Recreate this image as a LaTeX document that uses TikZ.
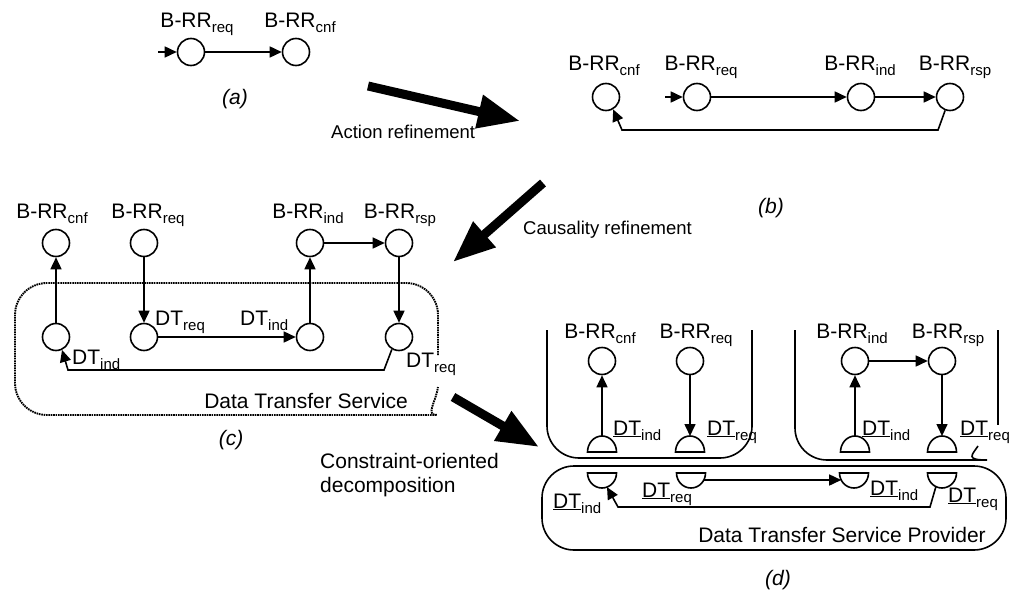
\documentclass[tikz,border=0pt]{standalone}
\usepackage{fontspec}
\setmainfont{Liberation Sans}
\usetikzlibrary{arrows.meta,calc}
\newcommand\sbs[1]{\raisebox{-5pt}{\fontsize{15}{15}\selectfont #1}}
\newcommand\udt{\underline{DT}}
\begin{document}
\begin{tikzpicture}[x=1pt,y=-1pt,
  every node/.style={font=\fontsize{21}{24}\selectfont, inner sep=0pt},
  it/.style={font=\fontsize{21}{24}\selectfont\itshape},
  steplbl/.style={font=\fontsize{18.5}{21}\selectfont},
  ev/.style={circle, draw, line width=1.6pt, minimum size=27pt},
  ln/.style={line width=1.6pt},
  arr/.style={line width=1.6pt, -{Triangle[length=12pt,width=11pt]}},
  big/.style={line width=9pt, -{Triangle[length=42pt,width=32pt]}},
  box/.style={line width=1.6pt, rounded corners=32pt},
  dbox/.style={line width=1.9pt, dash pattern=on 1.6pt off 0.8pt, rounded corners=32pt}]
\useasboundingbox (0,0) rectangle (1011,591);

% ---------- (a)
\node[ev] (a1) at (191,52) {};
\node[ev] (a2) at (296,52) {};
\coordinate (a0) at (158,52);
\draw[arr] (a0) -- (a1);
\draw[arr] (a1) -- (a2);
\node[anchor=base] (la1) at (197,28) {B-RR\sbs{req}};
\node[anchor=base] (la2) at (300,28) {B-RR\sbs{cnf}};
\node[it] (capa) at (235,99) {(a)};

% action refinement
\coordinate (act0) at (368,86);
\coordinate (act1) at (520,121);
\draw[big] (act0) -- (act1);
\node[steplbl, anchor=base west] (lact) at (331,139) {Action refinement};

% ---------- (b)
\node[ev] (b1) at (606,97) {};
\node[ev] (b2) at (697,97) {};
\node[ev] (b3) at (861,97) {};
\node[ev] (b4) at (950,97) {};
\node[anchor=base] (lb1) at (604,71) {B-RR\sbs{cnf}};
\node[anchor=base] (lb2) at (701,71) {B-RR\sbs{req}};
\node[anchor=base] (lb3) at (860,71) {B-RR\sbs{ind}};
\node[anchor=base] (lb4) at (955,71) {B-RR\sbs{rsp}};
\coordinate (b0) at (665,97);
\coordinate (br1) at (938,130);
\coordinate (br2) at (622,130);
\draw[arr] (b0) -- (b2);
\draw[arr] (b2) -- (b3);
\draw[arr] (b3) -- (b4);
\draw[arr] (b4.250) -- (br1) -- (br2) -- (b1.300);
\node[it] (capb) at (771,208) {(b)};

% causality refinement
\coordinate (cau0) at (543,183);
\coordinate (cau1) at (453,262);
\draw[big] (cau0) -- (cau1);
\node[steplbl, anchor=base west] (lcau) at (523,234) {Causality refinement};

% ---------- (c)
\node[ev] (cu1) at (56,243) {};
\node[ev] (cu2) at (144,243) {};
\node[ev] (cu3) at (310,243) {};
\node[ev] (cu4) at (399,243) {};
\node[ev] (cl1) at (56,337) {};
\node[ev] (cl2) at (144,337) {};
\node[ev] (cl3) at (310,337) {};
\node[ev] (cl4) at (399,337) {};
\node[anchor=base] (lc1) at (52,218) {B-RR\sbs{cnf}};
\node[anchor=base] (lc2) at (148,218) {B-RR\sbs{req}};
\node[anchor=base] (lc3) at (308,218) {B-RR\sbs{ind}};
\node[anchor=base] (lc4) at (400,218) {B-RR\sbs{rsp}};
\draw[arr] (cl1) -- (cu1);
\draw[arr] (cu2) -- (cl2);
\draw[arr] (cl2) -- (cl3);
\draw[arr] (cl3) -- (cu3);
\draw[arr] (cu3) -- (cu4);
\draw[arr] (cu4) -- (cl4);
\coordinate (cr1) at (384,370);
\coordinate (cr2) at (68,370);
\draw[arr] (cl4.240) -- (cr1) -- (cr2) -- (cl1.295);
\node[anchor=base west] (dc1) at (155,325) {DT\sbs{req}};
\node[anchor=base west] (dc2) at (240,325) {DT\sbs{ind}};
\node[anchor=base west] (dc3) at (72,364) {DT\sbs{ind}};
\node[anchor=base west] (dc4) at (406,367) {DT\sbs{req}};
\draw[dbox] (438,355) -- (438,283) -- (15,283) -- (15,415) -- (405,415)
  .. controls (425,415) and (436,402) .. (438,387);
\node[anchor=base] (lserv) at (306,408) {Data Transfer Service};
\node[it] (capc) at (231,440) {(c)};

% decomposition arrow
\coordinate (dec0) at (453,397);
\coordinate (dec1) at (539,447);
\draw[big] (dec0) -- (dec1);
\node[anchor=north west, align=left] (ldec) at (320,453) {Constraint-oriented\\decomposition};

% ---------- (d)
\draw[box] (547,330) -- (547,458) -- (752,458) -- (752,330);
\draw[box] (795,330) -- (795,460) -- (955,460) .. controls (965,460) and (972,455) .. (978,446);
\draw[ln] (998,330) -- (998,425);
\draw[box] (542,466) rectangle (1006,550);

\node[ev] (du1) at (602,361) {};
\node[ev] (du2) at (690,361) {};
\node[ev] (du3) at (855,361) {};
\node[ev] (du4) at (942,361) {};
\node[anchor=base] (ld1) at (600,338) {B-RR\sbs{cnf}};
\node[anchor=base] (ld2) at (696,338) {B-RR\sbs{req}};
\node[anchor=base] (ld3) at (852,338) {B-RR\sbs{ind}};
\node[anchor=base] (ld4) at (948,338) {B-RR\sbs{rsp}};

% upper gates (flat base, dome up)
\foreach \n/\x in {1/602,2/690,3/855,4/942}{
  \coordinate (gu\n) at (\x,452);
  \coordinate (gu\n t) at (\x,436);
  \draw[ln] (\x-14.5,452) arc[start angle=180, end angle=360, x radius=14.5, y radius=16] -- cycle;
}
% lower gates (flat top, dome down)
\foreach \n/\x in {1/602,2/691,3/854,4/942}{
  \coordinate (gl\n) at (\x,473);
  \draw[ln] (\x-14.5,473) arc[start angle=180, end angle=0, x radius=14.5, y radius=15] -- cycle;
}
\draw[arr] (gu1t) -- (du1);
\draw[arr] (du2) -- (gu2t);
\draw[arr] (gu3t) -- (du3);
\draw[arr] (du4) -- (gu4t);
\draw[arr] (du3) -- (du4);
\draw[arr] ($(gl2)+(12.8,7)$) -- ($(gl3)+(-12.8,7)$);
\coordinate (dr1) at (930,507);
\coordinate (dr2) at (618,507);
\draw[arr] ($(gl4)+(-6.1,13.6)$) -- (dr1) -- (dr2) -- ($(gl1)+(5,14.1)$);

\node[anchor=base west] (dd1) at (613,435) {\udt\sbs{ind}};
\node[anchor=base west] (dd2) at (707,435) {\udt\sbs{req}};
\node[anchor=base west] (dd3) at (862,435) {\udt\sbs{ind}};
\node[anchor=base west] (dd4) at (960,435) {\udt\sbs{req}};
\node[anchor=base west] (dd5) at (553,508) {\udt\sbs{ind}};
\node[anchor=base west] (dd6) at (642,497) {\udt\sbs{req}};
\node[anchor=base west] (dd7) at (870,495) {\udt\sbs{ind}};
\node[anchor=base west] (dd8) at (948,502) {\udt\sbs{req}};
\node[anchor=base] (lprov) at (842,542) {Data Transfer Service Provider};
\node[it] (capd) at (778,580) {(d)};
\end{tikzpicture}
\end{document}
